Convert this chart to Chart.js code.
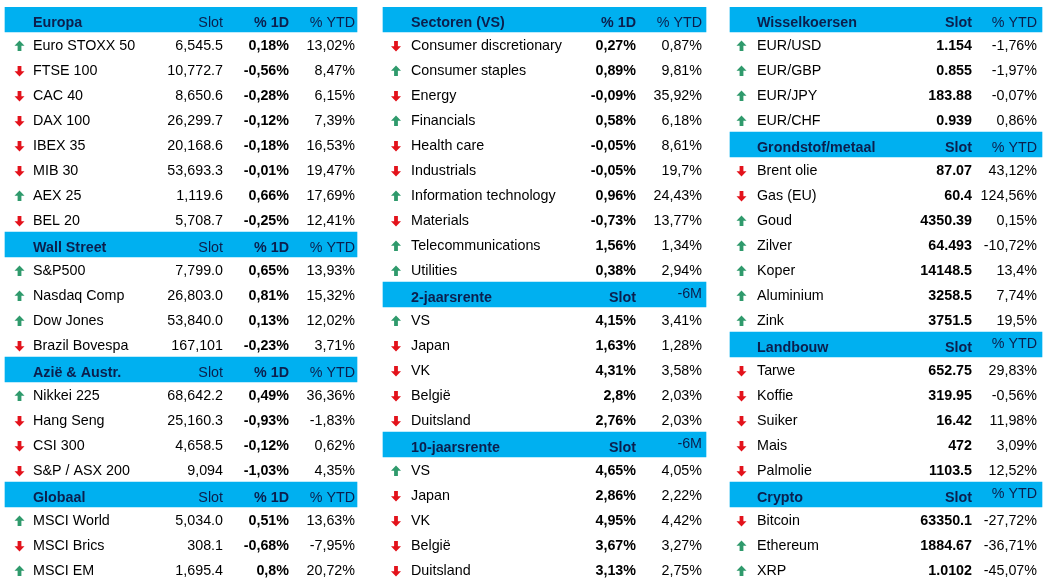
<!DOCTYPE html>
<html>
<head>
<meta charset="utf-8">
<script src="https://cdn.jsdelivr.net/npm/chart.js@4.4.1/dist/chart.umd.min.js"></script>
<style>
  html, body { margin: 0; padding: 0; background: #ffffff; }
  canvas { display: block; }
</style>
</head>
<body>
<canvas id="chart" width="1062" height="588"></canvas>
<script>
// ---- data (header rows have an empty trend) ----
var leftNames = ['Europa', 'Euro STOXX 50', 'FTSE 100', 'CAC 40', 'DAX 100', 'IBEX 35', 'MIB 30', 'AEX 25', 'BEL 20',
    'Wall Street', 'S&P500', 'Nasdaq Comp', 'Dow Jones', 'Brazil Bovespa',
    'Azië & Austr.', 'Nikkei 225', 'Hang Seng', 'CSI 300', 'S&P / ASX 200',
    'Globaal', 'MSCI World', 'MSCI Brics', 'MSCI EM'];
var leftTrend = ['', 'up', 'down', 'down', 'down', 'down', 'down', 'up', 'down',
    '', 'up', 'up', 'up', 'down',
    '', 'up', 'down', 'down', 'down',
    '', 'up', 'down', 'up'];
var leftSlot = ['Slot', '6,545.5', '10,772.7', '8,650.6', '26,299.7', '20,168.6', '53,693.3', '1,119.6', '5,708.7',
    'Slot', '7,799.0', '26,803.0', '53,840.0', '167,101',
    'Slot', '68,642.2', '25,160.3', '4,658.5', '9,094',
    'Slot', '5,034.0', '308.1', '1,695.4'];
var leftDay = ['% 1D', '0,18%', '-0,56%', '-0,28%', '-0,12%', '-0,18%', '-0,01%', '0,66%', '-0,25%',
    '% 1D', '0,65%', '0,81%', '0,13%', '-0,23%',
    '% 1D', '0,49%', '-0,93%', '-0,12%', '-1,03%',
    '% 1D', '0,51%', '-0,68%', '0,8%'];
var leftYtd = ['% YTD', '13,02%', '8,47%', '6,15%', '7,39%', '16,53%', '19,47%', '17,69%', '12,41%',
    '% YTD', '13,93%', '15,32%', '12,02%', '3,71%',
    '% YTD', '36,36%', '-1,83%', '0,62%', '4,35%',
    '% YTD', '13,63%', '-7,95%', '20,72%'];

var midNames = ['Sectoren (VS)', 'Consumer discretionary', 'Consumer staples', 'Energy', 'Financials', 'Health care',
    'Industrials', 'Information technology', 'Materials', 'Telecommunications', 'Utilities',
    '2-jaarsrente', 'VS', 'Japan', 'VK', 'België', 'Duitsland',
    '10-jaarsrente', 'VS', 'Japan', 'VK', 'België', 'Duitsland'];
var midTrend = ['', 'down', 'up', 'down', 'up', 'down', 'down', 'up', 'down', 'up', 'up',
    '', 'up', 'down', 'down', 'down', 'down',
    '', 'up', 'down', 'down', 'down', 'down'];
var midLast = ['% 1D', '0,27%', '0,89%', '-0,09%', '0,58%', '-0,05%', '-0,05%', '0,96%', '-0,73%', '1,56%', '0,38%',
    'Slot', '4,15%', '1,63%', '4,31%', '2,8%', '2,76%',
    'Slot', '4,65%', '2,86%', '4,95%', '3,67%', '3,13%'];
var midChange = ['% YTD', '0,87%', '9,81%', '35,92%', '6,18%', '8,61%', '19,7%', '24,43%', '13,77%', '1,34%', '2,94%',
    '-6M', '3,41%', '1,28%', '3,58%', '2,03%', '2,03%',
    '-6M', '4,05%', '2,22%', '4,42%', '3,27%', '2,75%'];

var rightNames = ['Wisselkoersen', 'EUR/USD', 'EUR/GBP', 'EUR/JPY', 'EUR/CHF',
    'Grondstof/metaal', 'Brent olie', 'Gas (EU)', 'Goud', 'Zilver', 'Koper', 'Aluminium', 'Zink',
    'Landbouw', 'Tarwe', 'Koffie', 'Suiker', 'Mais', 'Palmolie',
    'Crypto', 'Bitcoin', 'Ethereum', 'XRP'];
var rightTrend = ['', 'up', 'up', 'up', 'up',
    '', 'down', 'down', 'up', 'up', 'up', 'up', 'up',
    '', 'down', 'down', 'down', 'down', 'down',
    '', 'down', 'up', 'up'];
var rightSlot = ['Slot', '1.154', '0.855', '183.88', '0.939',
    'Slot', '87.07', '60.4', '4350.39', '64.493', '14148.5', '3258.5', '3751.5',
    'Slot', '652.75', '319.95', '16.42', '472', '1103.5',
    'Slot', '63350.1', '1884.67', '1.0102'];
var rightYtd = ['% YTD', '-1,76%', '-1,97%', '-0,07%', '0,86%',
    '% YTD', '43,12%', '124,56%', '0,15%', '-10,72%', '13,4%', '7,74%', '19,5%',
    '% YTD', '29,83%', '-0,56%', '11,98%', '3,09%', '12,52%',
    '% YTD', '-27,72%', '-36,71%', '-45,07%'];

// ---- layout / style ----
var FONT = '"Liberation Sans", Arial, sans-serif';
var SIZE = '14.3px ';
var HEADER_BG = '#00b0f0';
var HEADER_TXT = '#0b1f4d';
var UP = '#2f9a6c';
var DOWN = '#e3121b';

var panels = [
    { names: leftNames, trend: leftTrend, band: [5, 357], arrowX: 19.5, nameX: 33, raised: [],
      cols: [{ vals: leftSlot, x: 223, bold: false }, { vals: leftDay, x: 289, bold: true }, { vals: leftYtd, x: 355, bold: false }] },
    { names: midNames, trend: midTrend, band: [383, 706], arrowX: 396, nameX: 411, raised: [11, 17],
      cols: [{ vals: midLast, x: 636, bold: true }, { vals: midChange, x: 702, bold: false }] },
    { names: rightNames, trend: rightTrend, band: [730, 1042], arrowX: 741.5, nameX: 757, raised: [13, 19],
      cols: [{ vals: rightSlot, x: 972, bold: true }, { vals: rightYtd, x: 1037, bold: false }] }
];

var rows = leftNames.map(function(n, i) { return i; });

function headerBars(panel) {
    var output = [];
    for (var i = 0; i < panel.trend.length; i++) {
        output.push(panel.trend[i] === '' ? [panel.band[0], panel.band[1]] : null);
    }
    return output;
}

function drawArrow(ctx, cx, cy, up) {
    ctx.save();
    ctx.fillStyle = up ? UP : DOWN;
    ctx.translate(cx, cy);
    if (!up) ctx.scale(1, -1);
    ctx.beginPath();
    ctx.moveTo(0, -5.5);
    ctx.lineTo(5, -0.3);
    ctx.lineTo(1.9, -0.3);
    ctx.lineTo(1.9, 5);
    ctx.lineTo(-1.9, 5);
    ctx.lineTo(-1.9, -0.3);
    ctx.lineTo(-5, -0.3);
    ctx.closePath();
    ctx.fill();
    ctx.restore();
}

var tablePlugin = {
    id: 'tableText',
    afterDatasetsDraw: function(chart) {
        var ctx = chart.ctx;
        var xs = chart.scales.x, ys = chart.scales.y;
        ctx.save();
        panels.forEach(function(p) {
            for (var i = 0; i < p.names.length; i++) {
                var y = ys.getPixelForValue(i);
                var head = p.trend[i] === '';
                var base = y + (head ? 7.5 : 5.5);
                ctx.textBaseline = 'alphabetic';

                if (!head) drawArrow(ctx, xs.getPixelForValue(p.arrowX), y + 1.5, p.trend[i] === 'up');

                ctx.textAlign = 'left';
                ctx.fillStyle = head ? HEADER_TXT : '#000000';
                ctx.font = (head ? 'bold ' : '') + SIZE + FONT;
                ctx.fillText(p.names[i], xs.getPixelForValue(p.nameX), base);

                p.cols.forEach(function(c, k) {
                    var b = base;
                    if (head && k === p.cols.length - 1 && p.raised.indexOf(i) >= 0) b = y + 3.5;
                    ctx.textAlign = 'right';
                    ctx.fillStyle = head ? HEADER_TXT : '#000000';
                    ctx.font = (c.bold ? 'bold ' : '') + SIZE + FONT;
                    ctx.fillText(c.vals[i], xs.getPixelForValue(c.x), b);
                });
            }
        });
        ctx.restore();
    }
};

var ctx = document.getElementById('chart').getContext('2d');

var tableChart = new Chart(ctx, {
    type: 'bar',
    data: {
        labels: rows,
        datasets: panels.map(function(p) {
            return {
                data: headerBars(p),
                backgroundColor: HEADER_BG,
                borderWidth: 0,
                grouped: false,
                barPercentage: 1,
                categoryPercentage: 1
            };
        })
    },
    options: {
        indexAxis: 'y',
        responsive: false,
        animation: false,
        devicePixelRatio: 1,
        layout: { padding: { top: 7, bottom: 6, left: 0, right: 0 } },
        scales: {
            x: { type: 'linear', min: 0, max: 1062, display: false },
            y: { type: 'category', display: false }
        },
        plugins: {
            legend: { display: false },
            tooltip: { enabled: false }
        }
    },
    plugins: [tablePlugin]
});
</script>
</body>
</html>
